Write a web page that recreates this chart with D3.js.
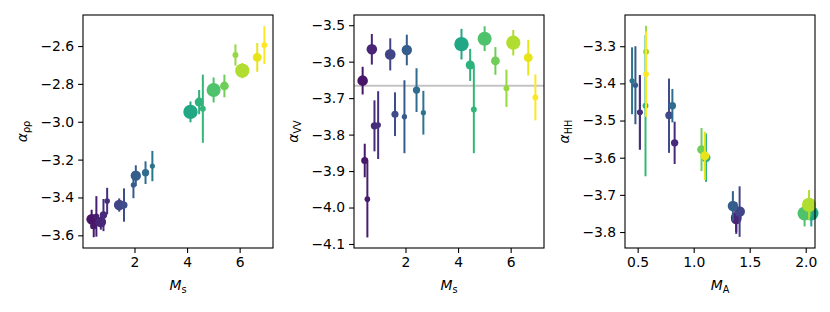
<!DOCTYPE html>
<html><head><meta charset="utf-8">
<script src="https://cdn.jsdelivr.net/npm/d3@7"></script>
<style>
body{margin:0;background:#fff;}
svg text{font-family:"DejaVu Sans",sans-serif;fill:#000;}
</style></head>
<body><svg id="c" width="830" height="312"></svg>
<script>
// ---- data ----
const ms       = [0.37,0.45,0.55,0.72,0.82,0.96,1.42,1.60,1.96,2.05,2.42,2.68,4.13,4.46,4.60,5.01,5.42,5.84,6.10,6.67,6.94];
const ma       = [1.38,0.78,0.52,1.38,0.83,0.52,1.41,0.78,0.48,1.35,0.81,0.45,2.05,1.11,0.57,1.99,1.07,0.575,2.03,1.10,0.575];
const alphaPP  = [-3.515,-3.55,-3.50,-3.53,-3.493,-3.419,-3.44,-3.44,-3.334,-3.285,-3.269,-3.234,-2.948,-2.896,-2.931,-2.832,-2.811,-2.647,-2.730,-2.660,-2.595];
const errPP    = [0.05,0.06,0.107,0.04,0.085,0.07,0.035,0.088,0.07,0.055,0.06,0.08,0.055,0.064,0.18,0.066,0.06,0.056,0.04,0.076,0.10];
const alphaVV  = [-3.652,-3.871,-3.977,-3.566,-3.776,-3.774,-3.580,-3.744,-3.751,-3.568,-3.678,-3.740,-3.552,-3.609,-3.731,-3.537,-3.598,-3.673,-3.548,-3.589,-3.698];
const errVV    = [0.038,0.046,0.105,0.042,0.07,0.093,0.044,0.06,0.10,0.042,0.06,0.06,0.042,0.044,0.12,0.034,0.038,0.051,0.035,0.049,0.063];
const alphaHH  = [-3.76,-3.485,-3.478,-3.765,-3.56,-3.478,-3.745,-3.487,-3.405,-3.73,-3.46,-3.393,-3.75,-3.60,-3.46,-3.75,-3.578,-3.315,-3.727,-3.595,-3.375];
const errHH    = [0.04,0.09,0.10,0.04,0.057,0.10,0.068,0.10,0.105,0.04,0.045,0.09,0.035,0.065,0.19,0.035,0.058,0.07,0.04,0.065,0.115];
const vvReference = -3.666;

const ticksMs  = [2,4,6];
const ticksMA  = [0.5,1.0,1.5,2.0];
const ticksPP  = [-3.6,-3.4,-3.2,-3.0,-2.8,-2.6];
const ticksVV  = [-4.1,-4.0,-3.9,-3.8,-3.7,-3.6,-3.5];
const ticksHH  = [-3.8,-3.7,-3.6,-3.5,-3.4,-3.3];

// ---- layout ----
const svg = d3.select("#c");
const plotTop = 15, plotBottom = 248, W = 190;
const fs = 13.9;
const color = d3.scaleSequential(d3.interpolateViridis).domain([0, d3.max(ms)]);
const rScale = d3.scaleLinear().domain([0.45, 2.05]).range([2.6, 7.2]);
const msPad = (d3.max(ms)-d3.min(ms))*0.05;
const msDomain = [d3.min(ms)-msPad, d3.max(ms)+msPad];

const fmt = v => (v<0?"\u2212":"") + Math.abs(v).toFixed(1);

function panel(left, xdom, xt, xs, ydom, yt, ys, yerr, xlabMain, xlabSub, ylabSub, hline){
  const x = d3.scaleLinear().domain(xdom).range([left, left+W]);
  const y = d3.scaleLinear().domain(ydom).range([plotBottom, plotTop]);
  const g = svg.append("g");
  if (hline !== undefined){
    g.append("line").attr("x1",left).attr("x2",left+W)
      .attr("y1",y(hline)).attr("y2",y(hline))
      .attr("stroke","#c4c4c4").attr("stroke-width",2);
  }
  const idx = d3.range(xs.length);
  idx.forEach(i=>{
    const c = color(ms[i]);
    g.append("line").attr("x1",x(xs[i])).attr("x2",x(xs[i]))
      .attr("y1",y(ys[i]-yerr[i])).attr("y2",y(ys[i]+yerr[i]))
      .attr("stroke",c).attr("stroke-width",2);
    g.append("circle").attr("cx",x(xs[i])).attr("cy",y(ys[i]))
      .attr("r",rScale(ma[i])).attr("fill",c);
  });
  const xa = d3.axisBottom(x).tickValues(xt).tickSize(4.9).tickPadding(4).tickFormat(d=>d3.format(xt.some(v=>v%1)?".1f":"d")(d));
  const ya = d3.axisLeft(y).tickValues(yt).tickSize(4.9).tickPadding(4).tickFormat(fmt);
  const gx = svg.append("g").attr("transform",`translate(0,${plotBottom})`).call(xa);
  const gy = svg.append("g").attr("transform",`translate(${left},0)`).call(ya);
  [gx,gy].forEach(a=>{
    a.select(".domain").remove();
    a.selectAll("line").attr("stroke","#000").attr("stroke-width",1.1);
    a.selectAll("text").attr("font-size",fs).attr("font-family","DejaVu Sans").attr("fill","#000");
  });
  svg.append("rect").attr("x",left).attr("y",plotTop).attr("width",W).attr("height",plotBottom-plotTop)
    .attr("fill","none").attr("stroke","#000").attr("stroke-width",1.1);
  const xl = svg.append("text").attr("x",left+W/2).attr("y",290).attr("text-anchor","middle").attr("font-size",fs);
  xl.append("tspan").attr("font-style","italic").text(xlabMain);
  xl.append("tspan").attr("font-size",fs*0.7).attr("dy",3).text(xlabSub);
  const yl = svg.append("text").attr("transform",`translate(${left-56},${(plotTop+plotBottom)/2}) rotate(-90)`)
    .attr("text-anchor","middle").attr("font-size",fs);
  yl.append("tspan").attr("font-style","italic").text("\u03b1");
  yl.append("tspan").attr("font-size",fs*0.7).attr("dy",3).text(ylabSub);
}

panel(83,  msDomain, ticksMs, ms, [-3.667,-2.436], ticksPP, alphaPP, errPP, "M", "s", "\u03c1\u03c1");
panel(354, msDomain, ticksMs, ms, [-4.111,-3.472], ticksVV, alphaVV, errVV, "M", "s", "VV", vvReference);
panel(625, [0.387,2.083], ticksMA, ma, [-3.843,-3.216], ticksHH, alphaHH, errHH, "M", "A", "HH");
</script></body></html>
